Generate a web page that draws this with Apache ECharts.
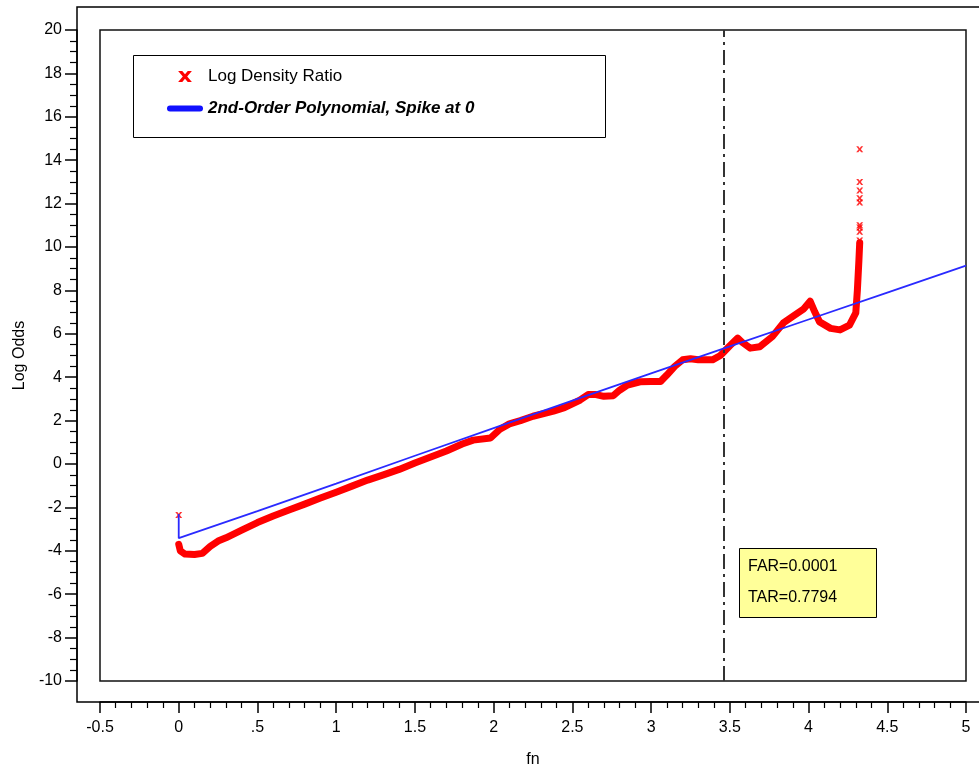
<!DOCTYPE html>
<html>
<head>
<meta charset="utf-8">
<script src="https://cdn.jsdelivr.net/npm/echarts@6/dist/echarts.min.js"></script>
<style>html,body{margin:0;padding:0;background:#fff}#c{width:979px;height:776px}</style>
</head>
<body>
<div id="c"></div>
<script>
// Log Density Ratio: dense band (fn, log odds)
var ratioCurve = [
  [0,-3.7],[0.01,-4.0],[0.04,-4.15],[0.1,-4.17],[0.15,-4.12],[0.2,-3.8],[0.25,-3.55],[0.3,-3.4],
  [0.4,-3.05],[0.5,-2.7],[0.6,-2.4],[0.7,-2.12],[0.8,-1.85],[0.9,-1.57],[1.0,-1.3],[1.1,-1.02],
  [1.2,-0.74],[1.3,-0.5],[1.4,-0.25],[1.5,0.05],[1.6,0.32],[1.7,0.6],[1.8,0.92],[1.87,1.1],
  [1.98,1.2],[2.04,1.6],[2.1,1.85],[2.17,2.0],[2.25,2.2],[2.38,2.44],[2.45,2.6],[2.55,2.95],
  [2.6,3.2],[2.65,3.2],[2.7,3.12],[2.76,3.15],[2.8,3.4],[2.85,3.64],[2.93,3.79],[3.0,3.8],
  [3.06,3.8],[3.1,4.1],[3.15,4.5],[3.2,4.8],[3.25,4.85],[3.3,4.8],[3.39,4.8],[3.44,5.0],
  [3.5,5.45],[3.55,5.8],[3.58,5.6],[3.63,5.34],[3.69,5.4],[3.77,5.87],[3.84,6.5],[3.9,6.8],
  [3.97,7.15],[4.01,7.5],[4.04,7.0],[4.07,6.55],[4.14,6.25],[4.2,6.18],[4.26,6.4],[4.3,6.96],
  [4.31,8.0],[4.32,9.4],[4.325,10.2]
];
// Log Density Ratio: isolated points
var ratioPoints = [
  [0,-2.35],[4.325,10.3],[4.325,10.7],[4.325,10.9],[4.325,11.0],[4.325,12.05],
  [4.325,12.25],[4.325,12.6],[4.325,13.0],[4.325,14.5]
];
// 2nd-Order Polynomial, Spike at 0
var polyFit = [
  [0,-2.3],[0,-3.42],[0.5,-2.17],[1,-0.9],[1.5,0.38],[2,1.65],[2.5,2.92],[3,4.18],
  [3.5,5.42],[4,6.66],[4.5,7.9],[5,9.14]
];
var thresholdX = 3.455;
var xTicks = {min:-0.5, max:5, step:0.5};
var yTicks = {min:-10, max:20, step:2};
var annotation = ['FAR=0.0001','TAR=0.7794'];

var FONT = '"Liberation Sans", Arial, sans-serif';
var XPATH = 'path://M0,0 L3,0 L5,2.4 L7,0 L10,0 L6.6,4 L10,8 L7,8 L5,5.6 L3,8 L0,8 L3.4,4 Z';
var LINEPATH = 'path://M3,0 H33 A3,3 0 0 1 33,6 H3 A3,3 0 0 1 3,0 Z';

var chart = echarts.init(document.getElementById('c'), null, {renderer:'canvas'});
chart.setOption({
  animation:false,
  backgroundColor:'#fff',
  grid:{left:100, right:13, top:30, bottom:95, show:true, borderColor:'#111', borderWidth:1.5, backgroundColor:'transparent'},
  xAxis:{
    type:'value', min:xTicks.min, max:xTicks.max, interval:xTicks.step, offset:21,
    name:'fn', nameLocation:'middle', nameGap:50,
    nameTextStyle:{fontFamily:FONT, fontSize:16, color:'#000'},
    axisLine:{show:true, onZero:false, lineStyle:{color:'#000', width:1.5}},
    axisTick:{show:true, inside:false, length:11, lineStyle:{color:'#000', width:1.5}},
    minorTick:{show:true, splitNumber:5, length:6, lineStyle:{color:'#000', width:1.2}},
    splitLine:{show:false},
    axisLabel:{fontFamily:FONT, fontSize:16, color:'#000', margin:18, showMinLabel:true, showMaxLabel:true,
      formatter:function(v){ if (Math.abs(v-0.5)<1e-9) return '.5'; return String(Math.round(v*10)/10); }}
  },
  yAxis:{
    type:'value', min:yTicks.min, max:yTicks.max, interval:yTicks.step, offset:23,
    name:'Log Odds', nameLocation:'middle', nameGap:49,
    nameTextStyle:{fontFamily:FONT, fontSize:16, color:'#000'},
    axisLine:{show:true, onZero:false, lineStyle:{color:'#000', width:1.5}},
    axisTick:{show:true, inside:false, length:12, lineStyle:{color:'#000', width:1.5}},
    minorTick:{show:true, splitNumber:4, length:7, lineStyle:{color:'#000', width:1.2}},
    splitLine:{show:false},
    axisLabel:{fontFamily:FONT, fontSize:16, color:'#000', margin:15, showMinLabel:true, showMaxLabel:true}
  },
  legend:{
    orient:'vertical', left:167, top:68, padding:0, itemGap:15, itemWidth:36, itemHeight:11,
    itemTextGap:5, selectedMode:false,
    data:[
      {name:'Log Density Ratio', icon:XPATH, itemStyle:{color:'#ff0000'},
       textStyle:{fontFamily:FONT, fontSize:17, color:'#000'}},
      {name:'2nd-Order Polynomial, Spike at 0', icon:LINEPATH, itemStyle:{color:'#1010ff'},
       textStyle:{fontFamily:FONT, fontSize:17, color:'#000', fontWeight:'bold', fontStyle:'italic'}}
    ]
  },
  graphic:[
    {type:'polyline', z:5, silent:true, shape:{points:[[979,7],[77,7],[77,702],[979,702]]},
     style:{stroke:'#000', lineWidth:1.5, fill:null}},
    {type:'rect', z:3, silent:true, shape:{x:133.5, y:55.5, width:472, height:82},
     style:{fill:'#fff', stroke:'#000', lineWidth:1}},
    {type:'rect', z:3, silent:true, shape:{x:739.5, y:548.5, width:137, height:69},
     style:{fill:'#ffff99', stroke:'#000', lineWidth:1}},
    {type:'text', z:4, silent:true, style:{x:748, y:567, text:annotation[0], font:'16px '+FONT, fill:'#000', verticalAlign:'middle'}},
    {type:'text', z:4, silent:true, style:{x:748, y:598, text:annotation[1], font:'16px '+FONT, fill:'#000', verticalAlign:'middle'}}
  ],
  series:[
    {
      name:'Log Density Ratio', type:'line', data:ratioCurve, showSymbol:false, symbol:'none',
      lineStyle:{color:'#ff0000', width:7, join:'round', cap:'round'}, itemStyle:{color:'#ff0000'}, z:2
    },
    {
      name:'Log Density Ratio', type:'scatter', data:ratioPoints, symbol:XPATH, symbolSize:[7,6],
      itemStyle:{color:'#ff0000'}, z:2
    },
    {
      name:'2nd-Order Polynomial, Spike at 0', type:'line', data:polyFit, showSymbol:false, symbol:'none',
      lineStyle:{color:'#2a2aff', width:1.8}, itemStyle:{color:'#1010ff'}, z:3,
      markLine:{
        silent:true, symbol:'none', label:{show:false},
        lineStyle:{color:'#333', width:2, type:[15,5,3,5]},
        data:[{xAxis:thresholdX}]
      }
    }
  ]
});
</script>
</body>
</html>
